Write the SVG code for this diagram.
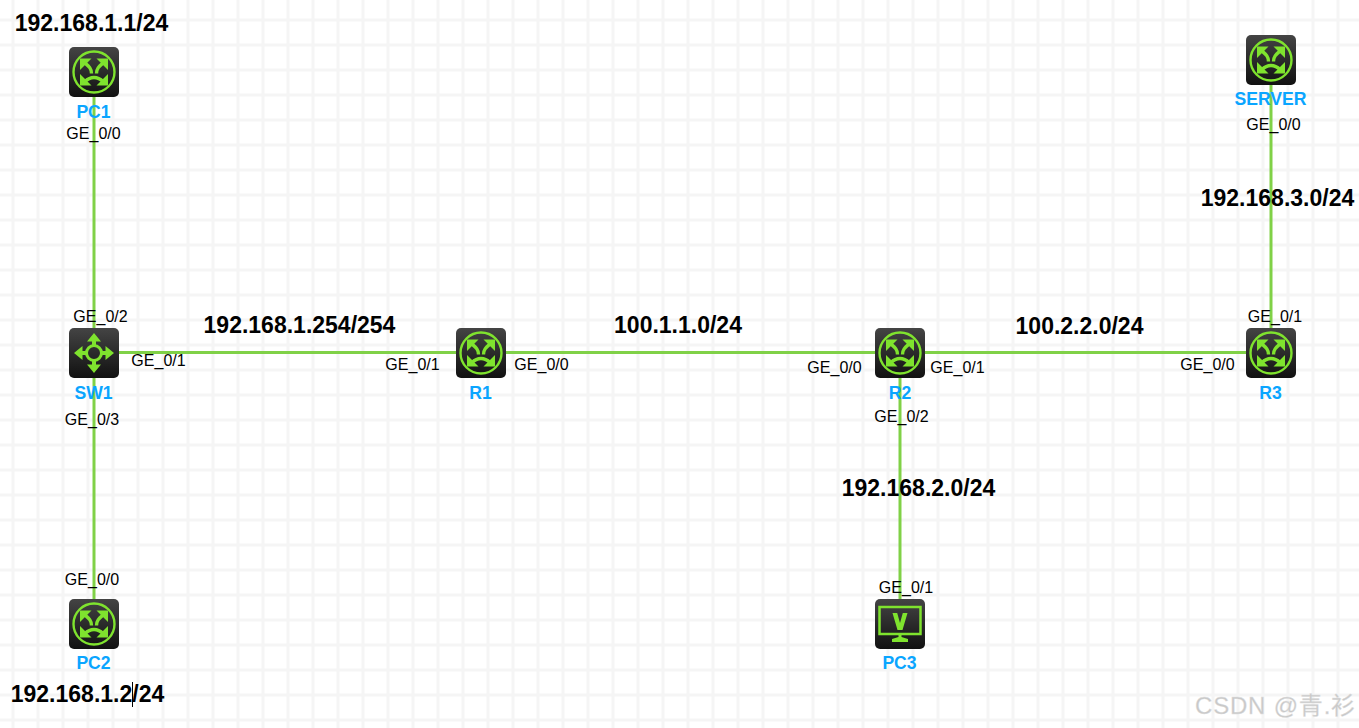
<svg xmlns="http://www.w3.org/2000/svg" width="1359" height="728" viewBox="0 0 1359 728">
<style>
text{font-family:"Liberation Sans",Arial,"Noto Sans CJK SC",sans-serif}
.port{font-size:16px;fill:#000;text-anchor:middle}
.name{font-size:17.6px;font-weight:700;fill:#0aa5ff;text-anchor:middle}
.net{font-size:23px;font-weight:700;fill:#000;text-anchor:middle}
.link{stroke:#80d147;stroke-width:3;fill:none}
.glyph{fill:none;stroke:#7fe32e}
</style>
<defs>
<pattern id="grid" width="25" height="25" patternUnits="userSpaceOnUse" x="0" y="7">
<rect width="25" height="25" fill="#fff"/>
<path d="M13 0V25M0 13H25" stroke="#f5f5f5" stroke-width="3" fill="none"/>
</pattern>
<linearGradient id="body" x1="0" y1="0" x2="0" y2="1">
<stop offset="0" stop-color="#444"/><stop offset="1" stop-color="#111"/>
</linearGradient>
<g id="head"><path d="M-14 -13.500H-2.500L-14 -2Z" fill="#7fe32e"/></g>
<g id="router">
<rect x="-25" y="-25" width="50" height="50" rx="5" fill="url(#body)"/>
<circle r="20.500" class="glyph" stroke-width="2.400"/>
<use href="#head"/>
<use href="#head" transform="scale(-1,1)"/>
<use href="#head" transform="scale(1,-1)"/>
<use href="#head" transform="scale(-1,-1)"/>
<path class="glyph" stroke-width="3.400" d="M-9 -9C-5 -5.500 -2.500 -3.500 -2.500 1.500M9 -9C5 -5.500 2.500 -3.500 2.500 1.500M-9 9.500C-6 6.500 -3 5.500 0 5.500C3 5.500 6 6.500 9 9.500"/>
</g>
<g id="arrowUp">
<path d="M0 -20L-7 -11.500H-2V-7H2V-11.500H7Z" fill="#7fe32e"/>
</g>
</defs>
<rect width="1359" height="728" fill="url(#grid)"/>
<g id="connectors">
<path class="link" d="M94 97V328"/>
<path class="link" d="M94 378V599"/>
<path class="link" d="M119 352.500H456"/>
<path class="link" d="M506 352.500H875"/>
<path class="link" d="M925 352.500H1246"/>
<path class="link" d="M900 378V599"/>
<path class="link" d="M1271 85V328"/>
</g>
<g id="PC1"><use href="#router" x="94" y="72"/><text class="name" x="93.500" y="118">PC1</text><text class="port" x="93.500" y="139">GE_0/0</text></g>
<g id="SW1">
<g transform="translate(94,353)">
<rect x="-25" y="-25" width="50" height="50" rx="5" fill="url(#body)"/>
<use href="#arrowUp"/><use href="#arrowUp" transform="rotate(90)"/><use href="#arrowUp" transform="rotate(180)"/><use href="#arrowUp" transform="rotate(270)"/>
<circle r="7.500" class="glyph" stroke-width="3"/>
</g>
<text class="name" x="93.500" y="399">SW1</text>
<text class="port" x="100.500" y="322">GE_0/2</text><text class="port" x="158.500" y="366">GE_0/1</text><text class="port" x="92" y="425">GE_0/3</text>
</g>
<g id="PC2"><use href="#router" x="94" y="624"/><text class="name" x="93.500" y="669">PC2</text><text class="port" x="92" y="585">GE_0/0</text></g>
<g id="R1"><use href="#router" x="481" y="353"/><text class="name" x="480.500" y="399">R1</text><text class="port" x="412.500" y="370">GE_0/1</text><text class="port" x="541.500" y="370">GE_0/0</text></g>
<g id="R2"><use href="#router" x="900" y="353"/><text class="name" x="900" y="399">R2</text><text class="port" x="834.500" y="373">GE_0/0</text><text class="port" x="957.500" y="373">GE_0/1</text><text class="port" x="901.500" y="422">GE_0/2</text></g>
<g id="R3"><use href="#router" x="1271" y="353"/><text class="name" x="1270.500" y="399">R3</text><text class="port" x="1275" y="322">GE_0/1</text><text class="port" x="1207.500" y="370">GE_0/0</text></g>
<g id="SERVER"><use href="#router" x="1271" y="60"/><text class="name" x="1270.500" y="105">SERVER</text><text class="port" x="1273.500" y="130">GE_0/0</text></g>
<g id="PC3">
<g transform="translate(900,624)">
<rect x="-25" y="-25" width="50" height="50" rx="5" fill="url(#body)"/>
<rect x="-20.500" y="-17" width="41" height="27" fill="none" stroke="#7fe32e" stroke-width="2.500"/>
<path d="M-7.500 -11H-2.800L0 -1L2.800 -11H7.500L2.500 6H-2.500Z" fill="#7fe32e"/>
<path d="M-1.500 10H1.500V13L8 15V18H-8V15L-1.500 13Z" fill="#7fe32e"/>
</g>
<text class="name" x="899.500" y="669">PC3</text><text class="port" x="906" y="593">GE_0/1</text>
</g>
<g id="labels">
<text class="net" x="91.500" y="31">192.168.1.1/24</text>
<text class="net" x="87.500" y="702">192.168.1.2/24</text>
<path d="M132.500 682V707" stroke="#000" stroke-width="1"/>
<text class="net" x="299.500" y="333">192.168.1.254/254</text>
<text class="net" x="678" y="333">100.1.1.0/24</text>
<text class="net" x="1079.500" y="334">100.2.2.0/24</text>
<text class="net" x="918.500" y="496">192.168.2.0/24</text>
<text class="net" x="1277.500" y="206">192.168.3.0/24</text>
</g>
<text x="1195" y="714" font-size="24" fill="#c9c9c9" stroke="#e2e2e2" stroke-width="0.300" letter-spacing="0.800">CSDN @青.衫</text>
</svg>
